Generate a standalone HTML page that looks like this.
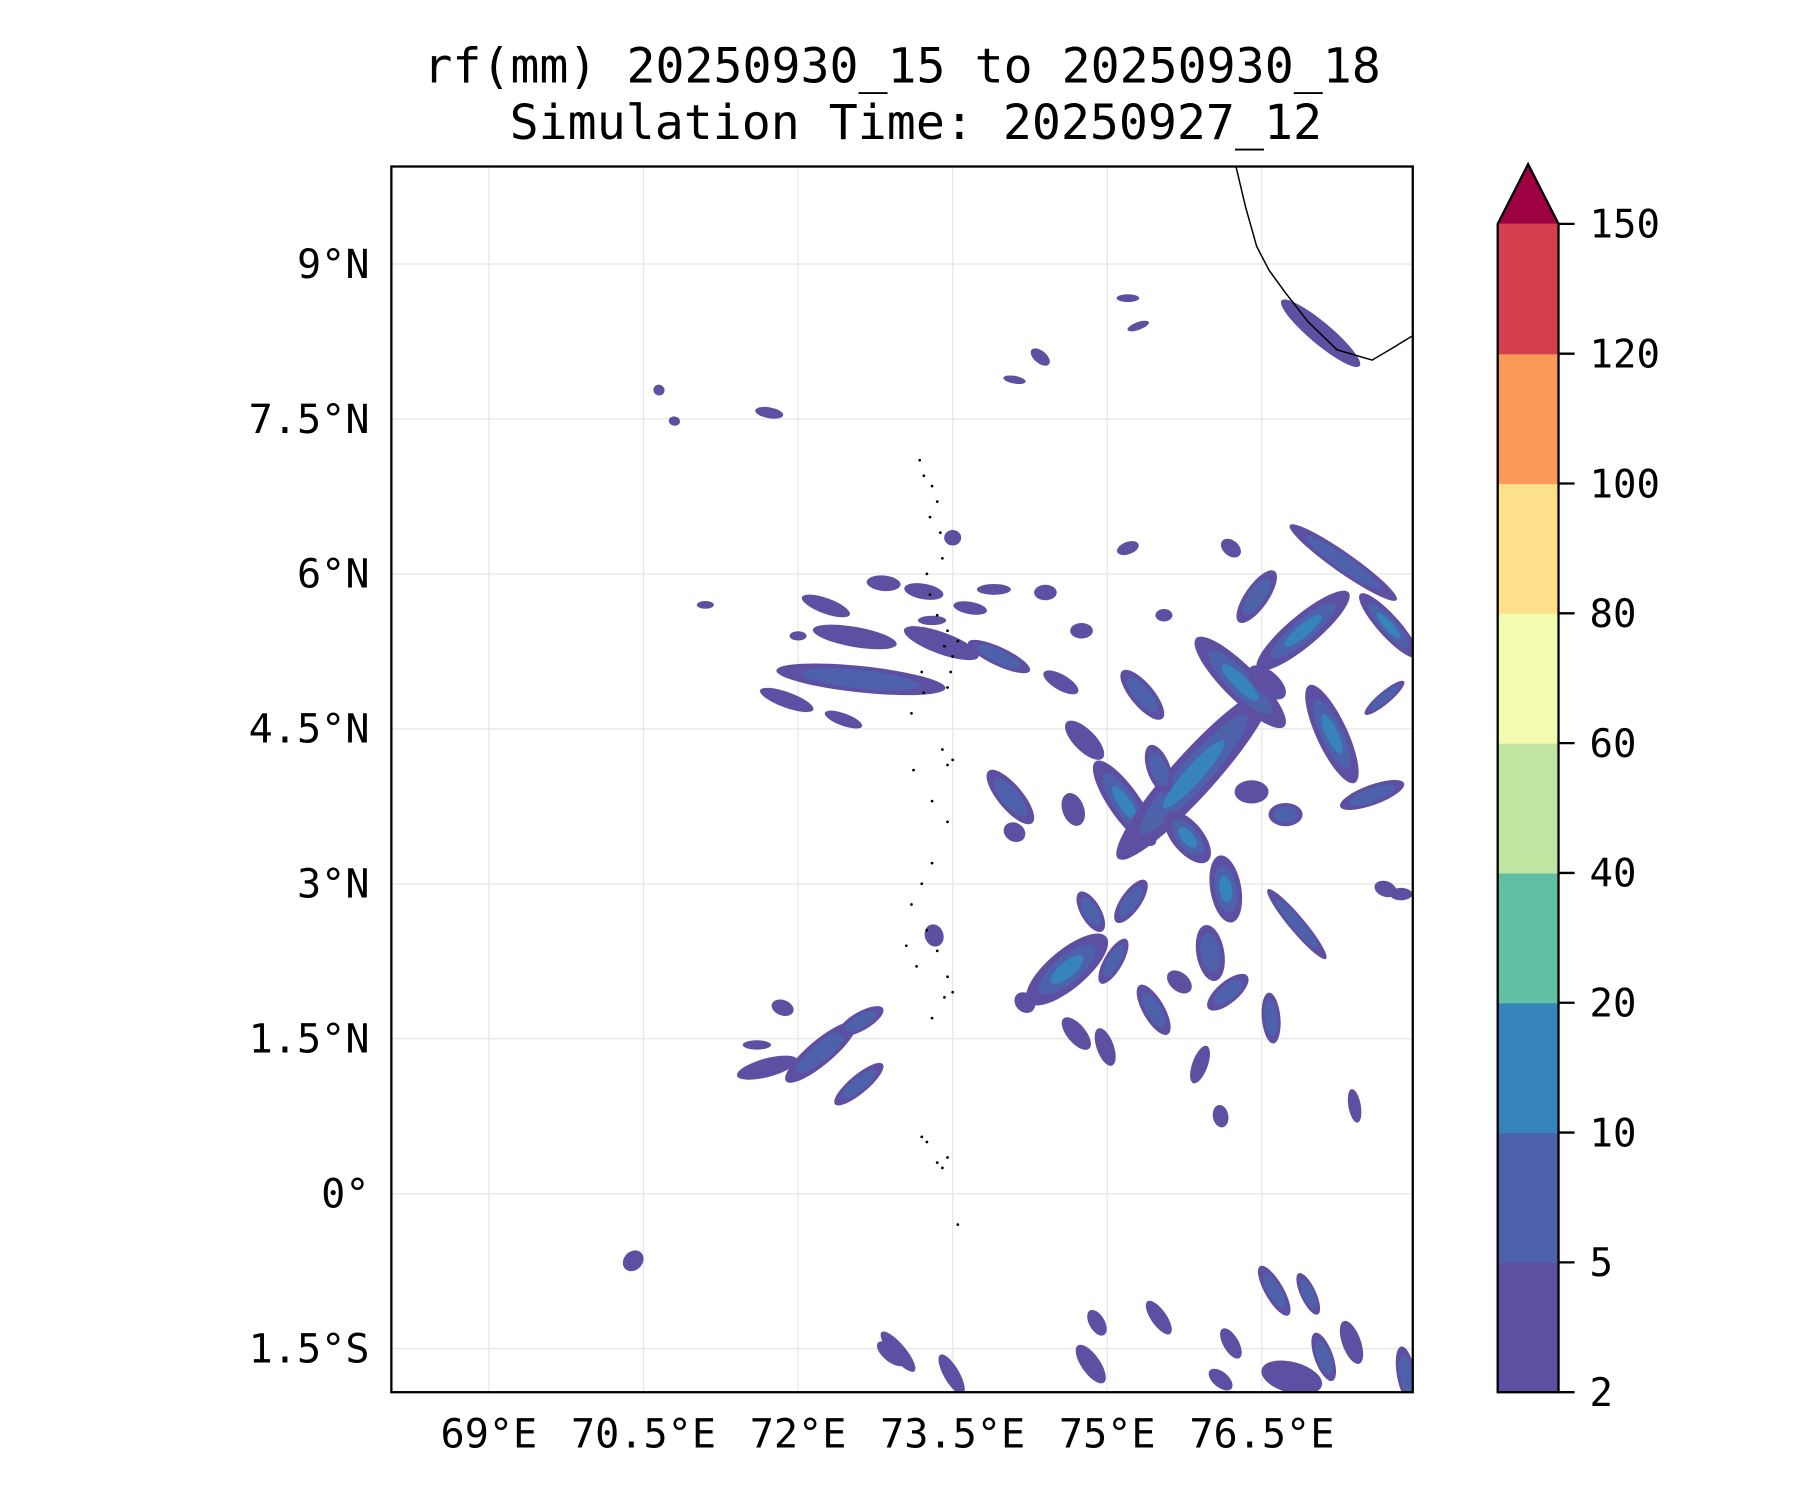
<!DOCTYPE html>
<html><head><meta charset="utf-8">
<style>
html,body{margin:0;padding:0;background:#fff;}
svg{display:block;font-family:"DejaVu Sans Mono","Liberation Mono",monospace;}
</style></head>
<body>
<svg id="chart" width="1800" height="1500" viewBox="0 0 1559 1299" xmlns="http://www.w3.org/2000/svg">
<g transform="scale(0.994)">
<text x="786" y="72" font-size="42" text-anchor="middle">rf(mm) 20250930_15 to 20250930_18</text>
<text x="798" y="121" font-size="42" text-anchor="middle">Simulation Time: 20250927_12</text>
<defs><clipPath id="pc"><rect x="341" y="145" width="890" height="1068"/></clipPath></defs>
<g id="grid"></g>
<g id="blobs" clip-path="url(#pc)"></g>
<g id="coast" clip-path="url(#pc)"></g>
<rect x="341" y="145" width="890" height="1068" fill="none" stroke="#000" stroke-width="2"/>
<g id="ticks"></g>
<g id="cbar"></g>
</g>
</svg>
<script>
const lonTicks=[69,70.5,72,73.5,75,76.5];
const lonLabels=["69°E","70.5°E","72°E","73.5°E","75°E","76.5°E"];
const latTicks=[9,7.5,6,4.5,3,1.5,0,-1.5];
const latLabels=["9°N","7.5°N","6°N","4.5°N","3°N","1.5°N","0°","1.5°S"];
const levels=[2,5,10,20,40,60,80,100,120,150];
const levelColors=["#5e4fa2","#4e62ab","#3783bb","#63bea6","#bfe5a0","#f4faae","#fee08b","#f99a58","#d53e4f"];
const extendColor="#9e0142";
// blobs: lon, lat, length(deg), width(deg), angle(deg), level
const blobLon=[77.07,72.55,72.61,71.89,72.44,73.39,73.95,72.83,73.22,73.67,72.27,74.06,74.1,74.67,74.78,74.55,75.34,75.17,75.84,76.29,76.9,77.18,77.29,77.73,77.69,77.57,76.45,75.5,75.78,76.15,76.84,76.73,76.4,74.61,74.84,75.23,75.06,75.45,76.0,76.17,76.59,75.9,74.98,74.7,71.7,72.22,72.59,72.61,71.85,71.6,72.97,73.49,74.84,76.62,76.95,76.79,77.1,77.37,77.9,75.5,76.2,76.1,71.72,70.65,70.8,73.5,75.2,76.2,75.2,75.3,74.35,74.1,70.4,73.32,74.2,75.7,77.7,77.85,76.1,77.4,74.9,72.9,73.9,74.4,74.75,73.3,72.0,71.1,75.55,76.55];
const blobLat=[8.33,5.39,4.98,4.78,4.59,5.33,5.2,5.91,5.83,5.67,5.69,3.84,3.5,3.72,4.39,4.95,4.83,3.78,4.06,4.95,5.45,4.45,6.11,5.5,4.8,3.86,5.78,4.11,3.45,2.95,2.61,3.67,3.89,2.17,2.73,2.83,2.25,1.78,2.33,1.95,1.7,1.25,1.42,1.55,1.22,1.37,1.06,1.67,1.8,1.44,-1.53,-1.75,-1.65,-0.94,-0.97,-1.78,-1.58,-1.44,-1.75,-1.2,-1.45,-1.8,7.56,7.78,7.48,6.35,6.25,6.25,8.67,8.4,8.1,7.88,-0.65,2.5,1.85,2.05,2.95,2.9,0.75,0.85,-1.25,-1.55,5.85,5.82,5.45,5.55,5.4,5.7,5.6,4.95];
const blobLen=[0.9,0.75,1.5,0.5,0.35,0.7,0.6,0.3,0.35,0.3,0.45,0.6,0.2,0.3,0.45,0.35,0.55,0.9,2.0,1.1,1.05,0.95,1.15,0.75,0.45,0.6,0.55,0.45,0.55,0.6,0.8,0.3,0.3,0.9,0.4,0.45,0.45,0.5,0.5,0.45,0.45,0.35,0.35,0.35,0.55,0.8,0.55,0.45,0.2,0.25,0.45,0.4,0.4,0.5,0.4,0.55,0.45,0.4,0.5,0.35,0.3,0.25,0.25,0.1,0.1,0.15,0.2,0.2,0.2,0.2,0.2,0.2,0.2,0.2,0.2,0.25,0.2,0.2,0.2,0.3,0.25,0.3,0.3,0.2,0.2,0.25,0.15,0.15,0.15,0.4];
const blobWid=[0.14,0.13,0.17,0.1,0.08,0.14,0.12,0.1,0.1,0.08,0.1,0.16,0.12,0.14,0.14,0.1,0.15,0.2,0.28,0.22,0.2,0.2,0.13,0.14,0.08,0.13,0.15,0.15,0.2,0.2,0.1,0.15,0.15,0.25,0.13,0.13,0.12,0.14,0.18,0.14,0.12,0.1,0.11,0.12,0.12,0.16,0.12,0.12,0.1,0.06,0.1,0.1,0.12,0.12,0.1,0.2,0.12,0.12,0.12,0.1,0.1,0.1,0.07,0.07,0.06,0.1,0.08,0.1,0.05,0.05,0.08,0.05,0.12,0.12,0.12,0.12,0.1,0.08,0.1,0.08,0.1,0.1,0.07,0.1,0.1,0.06,0.06,0.05,0.08,0.15];
const blobAng=[40,10,6,20,20,20,25,5,10,10,20,50,30,70,45,30,50,55,-48,45,-40,65,35,48,-40,-20,-55,70,50,80,50,0,0,-40,60,-55,-60,60,80,-40,85,-70,70,50,-15,-40,-40,-30,20,0,50,60,55,60,65,15,70,70,80,55,60,40,10,20,10,0,-20,40,0,-20,40,10,-45,70,45,40,20,0,80,80,60,40,0,0,0,0,0,0,0,40];
const blobLvl=[0,0,1,0,0,0,1,0,0,0,0,1,0,0,0,0,1,2,2,2,2,2,1,2,1,1,1,1,2,2,1,1,0,2,1,1,1,1,1,1,1,0,0,0,0,1,1,1,0,0,0,0,0,1,1,0,1,0,1,0,0,0,0,0,0,0,0,0,0,0,0,0,0,0,0,0,0,0,0,0,0,0,0,0,0,0,0,0,0,0];
const coastLon=[76.25,76.34,76.45,76.57,76.73,76.95,77.23,77.57,77.74,77.97];
const coastLat=[9.94,9.56,9.17,8.94,8.72,8.44,8.17,8.07,8.17,8.31];
const islandLon=[73.18,73.22,73.3,73.35,73.28,73.38,73.4,73.25,73.28,73.35,73.45,73.42,73.5,73.55,73.48,73.45,73.2,73.22,73.1,73.12,73.3,73.4,73.45,73.5,73.45,73.3,73.2,73.1,73.05,73.15,73.25,73.35,73.45,73.5,73.42,73.3,73.25,73.35,73.4,73.45,73.2,73.55];
const islandLat=[7.1,6.95,6.85,6.7,6.55,6.4,6.15,6.0,5.8,5.6,5.45,5.3,5.2,5.35,5.05,4.9,5.05,4.85,4.65,4.1,3.8,4.3,4.15,4.2,3.6,3.2,3.0,2.8,2.4,2.2,2.55,2.35,2.1,1.95,1.9,1.7,0.5,0.3,0.25,0.35,0.55,-0.3];

const NS="http://www.w3.org/2000/svg";
function xS(lon){return 426+(lon-69)/1.5*134.7;}
function yS(lat){return 230+(9-lat)/1.5*135;}
const kx=134.7/1.5, ky=135/1.5;
function mk(tag,attrs,parent){const e=document.createElementNS(NS,tag);for(const k in attrs)e.setAttribute(k,attrs[k]);parent.appendChild(e);return e;}

const grid=document.getElementById('grid'), ticks=document.getElementById('ticks');
lonTicks.forEach((v,i)=>{
  const l=mk('line',{x1:xS(v),x2:xS(v),y1:145,y2:1213,stroke:'#e8e8e8','stroke-width':1.2},grid);
  
  
  const t=mk('text',{x:xS(v),y:1261,'font-size':35,'text-anchor':'middle'},ticks);
  t.textContent=lonLabels[i];
  
  
});
latTicks.forEach((v,i)=>{
  const l=mk('line',{x1:341,x2:1231,y1:yS(v),y2:yS(v),stroke:'#e8e8e8','stroke-width':1.2},grid);
  
  
  const t=mk('text',{x:322,y:yS(v)+12,'font-size':35,'text-anchor':'end'},ticks);
  t.textContent=latLabels[i];
  
  
});

const blobs=document.getElementById('blobs');
for(let i=0;i<blobLon.length;i++){
  const cx=xS(blobLon[i]), cy=yS(blobLat[i]);
  const rx=blobLen[i]*kx/2*1.1, ry=blobWid[i]*ky/2*1.5;
  const e=mk('ellipse',{cx:cx,cy:cy,rx:rx,ry:ry,fill:levelColors[0],transform:`rotate(${blobAng[i]} ${cx} ${cy})`},blobs);
  
  
  for(let l=1;l<=blobLvl[i];l++){
    const f=1-l*0.3;
    const e2=mk('ellipse',{cx:cx,cy:cy,rx:rx*f,ry:ry*f,fill:levelColors[l],transform:`rotate(${blobAng[i]} ${cx} ${cy})`},blobs);
    
    
  }
}
const coast=document.getElementById('coast');
const pts=coastLon.map((v,i)=>xS(v)+','+yS(coastLat[i])).join(' ');
const cl=mk('polyline',{points:pts,fill:'none',stroke:'#000','stroke-width':1.3},coast);


islandLon.forEach((v,i)=>{
  const d=mk('circle',{cx:xS(v),cy:yS(islandLat[i]),r:1.2,fill:'#000'},coast);
  
  
});

const cb=document.getElementById('cbar');
const cbx=1305, cbw=53, cbTop=195, cbBot=1213;
const bandH=(cbBot-cbTop)/levelColors.length;
levelColors.forEach((c,i)=>{
  const r=mk('rect',{x:cbx,y:cbBot-(i+1)*bandH,width:cbw,height:bandH+0.5,fill:c},cb);
  
  
});
const tri=mk('polygon',{points:`${cbx},${cbTop} ${cbx+cbw/2},143 ${cbx+cbw},${cbTop}`,fill:extendColor},cb);


const ol=mk('polygon',{points:`${cbx},${cbBot} ${cbx},${cbTop} ${cbx+cbw/2},143 ${cbx+cbw},${cbTop} ${cbx+cbw},${cbBot}`,fill:'none',stroke:'#000','stroke-width':2},cb);


levels.forEach((v,i)=>{
  const y=cbBot-i*bandH;
  mk('line',{x1:cbx+cbw,x2:cbx+cbw+14,y1:y,y2:y,stroke:'#000','stroke-width':2},cb);
  const t=mk('text',{x:1385,y:y+12,'font-size':34},cb);
  t.textContent=v;
  
  
});
</script>
</body></html>
